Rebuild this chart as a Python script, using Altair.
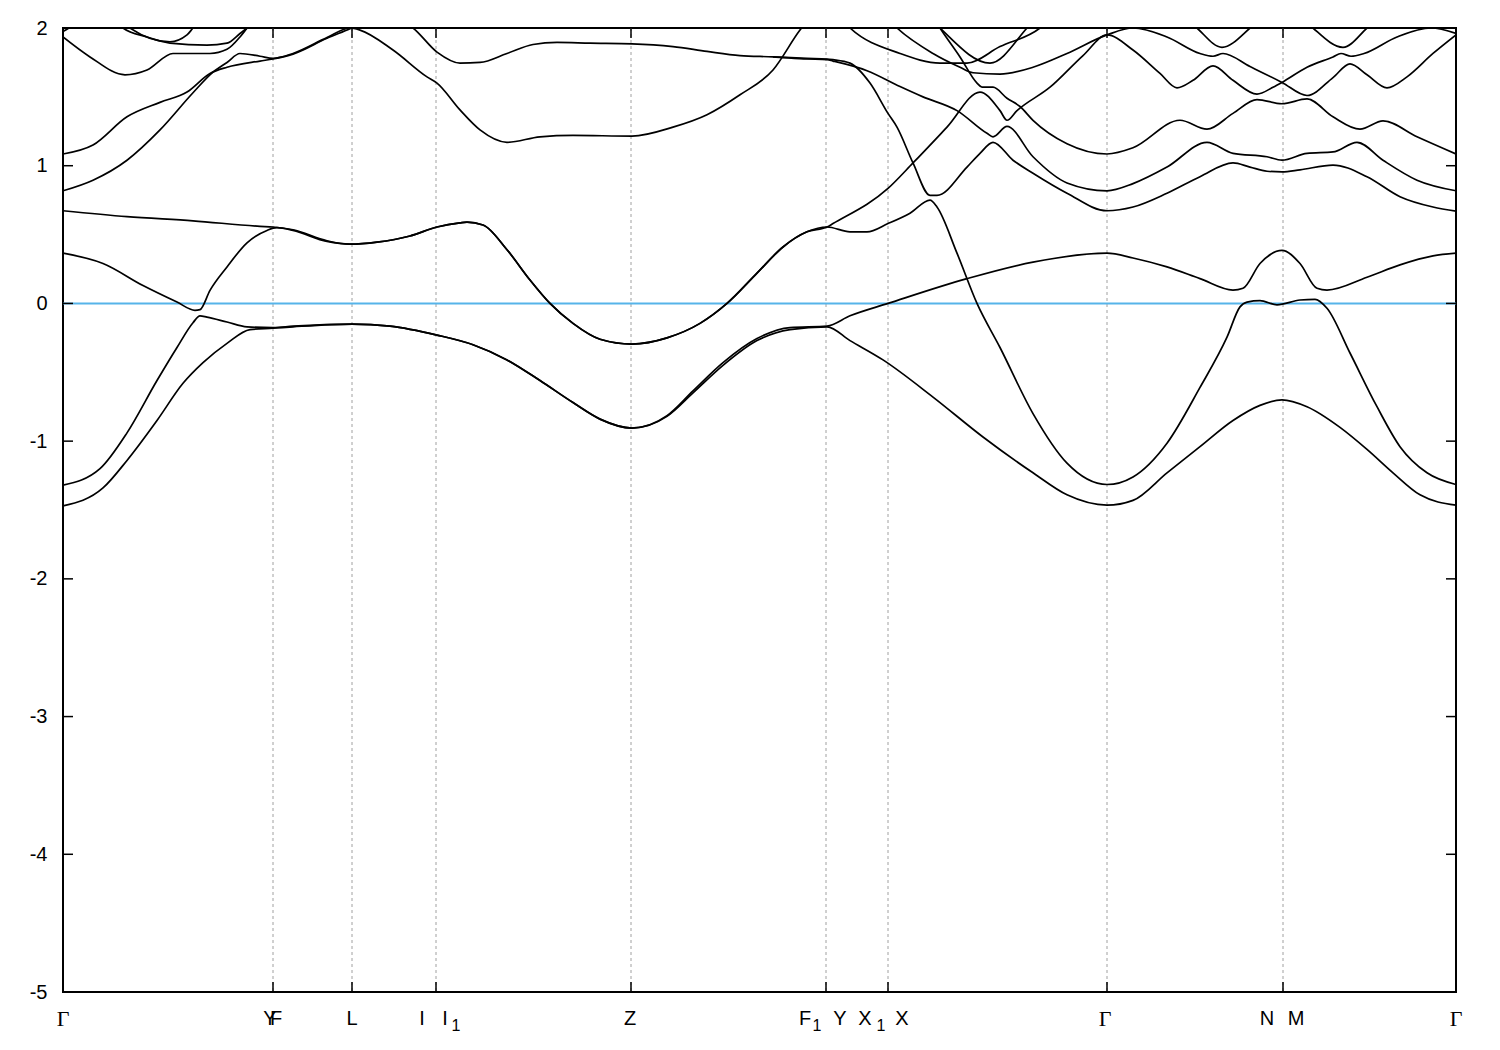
import altair as alt
import pandas as pd

# ---------------- data ----------------
# high-symmetry points along the path (arbitrary path units)
hs_k = [0, 210, 289, 373, 568, 763, 825, 1044, 1220, 1393]
# tick-label pieces and the high-symmetry point each belongs to
label_text = ["Γ", "Y", "F", "L", "I", "I", "1", "Z", "F", "1", "Y", "X", "1", "X", "Γ", "N", "M", "Γ"]
label_at = [0, 1, 1, 2, 3, 3, 3, 4, 5, 5, 5, 6, 6, 6, 7, 8, 8, 9]
yticks = [-5, -4, -3, -2, -1, 0, 1, 2]
fermi = [0]

A_k = [0, 40, 64, 94, 120, 140, 164, 187, 210, 230, 289, 327, 374, 410, 444, 477, 510, 537, 569, 604,
       630, 660, 694, 727, 764, 787, 820, 870, 920, 970, 1004, 1044, 1070, 1104, 1137, 1170, 1197, 1219, 1244, 1277,
       1304, 1330, 1357, 1393]
A_e = [-1.47, -1.34, -1.14, -0.85, -0.58, -0.43, -0.29, -0.19, -0.18, -0.17, -0.15, -0.165, -0.23, -0.30, -0.41, -0.56, -0.72, -0.84, -0.905, -0.82,
       -0.65, -0.45, -0.27, -0.19, -0.17, -0.27, -0.41, -0.68, -0.97, -1.23, -1.39, -1.465, -1.43, -1.23, -1.04, -0.85, -0.74, -0.70, -0.75, -0.90,
       -1.06, -1.23, -1.39, -1.465]

B_k = [0, 37, 64, 94, 114, 130, 137, 144, 164, 184, 210, 230, 289, 327, 374, 410, 444, 477, 510, 537,
       569, 604, 630, 660, 694, 727, 764, 787, 825, 904, 970, 1044, 1070, 1104, 1137, 1170, 1180, 1197, 1219, 1237,
       1254, 1264, 1304, 1337, 1370, 1393]
B_e = [-1.32, -1.20, -0.94, -0.56, -0.32, -0.14, -0.09, -0.10, -0.135, -0.17, -0.175, -0.165, -0.15, -0.165, -0.23, -0.30, -0.41, -0.56, -0.72, -0.84,
       -0.905, -0.815, -0.635, -0.43, -0.255, -0.175, -0.165, -0.09, 0.0, 0.18, 0.30, 0.365, 0.33, 0.265, 0.18, 0.097, 0.11, 0.29, 0.385, 0.29,
       0.11, 0.097, 0.19, 0.28, 0.345, 0.365]

C_k = [0, 40, 80, 114, 132, 137, 147, 164, 184, 204, 214, 230, 264, 287, 314, 347, 374, 397, 404, 420,
       444, 467, 487, 510, 537, 569, 604, 637, 664, 694, 720, 744, 764, 787, 804, 825, 847, 867, 874, 894,
       914, 937, 970, 1004, 1044, 1070, 1104, 1137, 1164, 1177, 1184, 1197, 1214, 1237, 1252, 1264, 1287, 1314, 1337, 1364,
       1393]
C_e = [0.365, 0.29, 0.13, 0.01, -0.05, -0.045, 0.095, 0.265, 0.44, 0.53, 0.55, 0.53, 0.45, 0.43, 0.445, 0.49, 0.555, 0.585, 0.59, 0.57,
       0.39, 0.17, 0.0, -0.145, -0.26, -0.295, -0.25, -0.145, 0.0, 0.22, 0.41, 0.52, 0.555, 0.52, 0.52, 0.58, 0.655, 0.75, 0.70, 0.365,
       0.0, -0.32, -0.80, -1.16, -1.315, -1.26, -1.015, -0.61, -0.245, -0.025, 0.01, 0.02, -0.01, 0.025, 0.03, -0.035, -0.36, -0.75, -1.04, -1.23,
       -1.315]

D_k = [0, 64, 130, 197, 210, 230, 264, 287, 314, 347, 374, 397, 404, 420, 444, 467, 487, 510, 537, 569,
       604, 637, 664, 694, 720, 744, 764, 770, 825, 850, 884, 917, 937, 944, 954, 987, 1020, 1044, 1070, 1097,
       1114, 1130, 1150, 1170, 1194, 1210, 1219, 1244, 1270, 1278, 1288, 1301, 1334, 1368, 1393]
D_e = [0.673, 0.63, 0.60, 0.56, 0.555, 0.535, 0.455, 0.43, 0.445, 0.49, 0.555, 0.585, 0.59, 0.57, 0.39, 0.17, 0.0, -0.145, -0.26, -0.295,
       -0.25, -0.145, 0.0, 0.22, 0.41, 0.52, 0.555, 0.58, 0.835, 1.02, 1.28, 1.535, 1.40, 1.33, 1.40, 1.57, 1.80, 1.95, 1.84, 1.67,
       1.565, 1.62, 1.725, 1.62, 1.52, 1.57, 1.605, 1.715, 1.79, 1.815, 1.795, 1.815, 1.935, 2.0, 1.96]

E_k = [0, 30, 64, 97, 130, 150, 164, 177, 197, 210, 230, 264, 287, 297, 330, 364, 374, 397, 417, 444,
       477, 510, 569, 610, 644, 677, 710, 737, 750]
E_e = [0.818, 0.895, 1.04, 1.26, 1.53, 1.68, 1.75, 1.815, 1.795, 1.78, 1.815, 1.93, 2.0, 1.985, 1.84, 1.645, 1.60, 1.405, 1.26, 1.17,
       1.21, 1.22, 1.215, 1.28, 1.37, 1.515, 1.695, 1.985, 2.1]

F_k = [0, 30, 64, 97, 124, 147, 164, 197, 210, 230, 264, 287, 318, 350, 374, 397, 417, 444, 470, 494,
       527, 569, 610, 644, 677, 710, 744, 764, 770, 804, 837, 860, 894, 924, 930, 944, 970, 1004, 1044, 1070,
       1104, 1144, 1170, 1204, 1219, 1244, 1270, 1294, 1320, 1354, 1393]
F_e = [1.085, 1.15, 1.355, 1.46, 1.535, 1.67, 1.715, 1.76, 1.775, 1.81, 1.925, 1.995, 2.1, 2.0, 1.825, 1.745, 1.75, 1.815, 1.88, 1.895,
       1.89, 1.885, 1.865, 1.83, 1.80, 1.79, 1.775, 1.77, 1.76, 1.69, 1.575, 1.50, 1.40, 1.235, 1.21, 1.285, 1.065, 0.875, 0.818, 0.87,
       0.99, 1.17, 1.09, 1.065, 1.04, 1.09, 1.10, 1.17, 1.04, 0.895, 0.818]

G_k = [710, 744, 764, 770, 787, 807, 825, 834, 850, 867, 874, 904, 917, 930, 950, 970, 1004, 1044, 1070, 1104,
       1137, 1170, 1187, 1204, 1219, 1237, 1270, 1304, 1337, 1370, 1393]
G_e = [1.79, 1.78, 1.775, 1.77, 1.745, 1.60, 1.38, 1.28, 1.02, 0.785, 0.785, 0.99, 1.09, 1.17, 1.04, 0.945, 0.80, 0.673, 0.70, 0.80,
       0.92, 1.02, 0.99, 0.96, 0.955, 0.97, 1.005, 0.92, 0.775, 0.70, 0.67]

H_k = [870, 877, 897, 914, 919, 930, 944, 957, 970, 1004, 1044, 1070, 1117, 1144, 1170, 1194, 1219, 1244, 1270, 1297,
       1320, 1354, 1393]
H_e = [2.08, 2.0, 1.79, 1.60, 1.57, 1.57, 1.49, 1.43, 1.33, 1.16, 1.085, 1.13, 1.33, 1.265, 1.38, 1.48, 1.45, 1.485, 1.355, 1.265,
       1.325, 1.21, 1.085]

I_k = [0, 27, 62, 84, 110, 130, 147, 164, 177, 184, 190]
I_e = [1.935, 1.79, 1.66, 1.695, 1.815, 1.815, 1.815, 1.845, 1.935, 2.0, 2.06]
J_k = [55, 60, 84, 107, 144, 164, 177, 184, 190]
J_e = [2.04, 2.0, 1.935, 1.89, 1.875, 1.89, 1.96, 2.0, 2.04]
K_k = [62, 67, 107, 124, 130, 135]
K_e = [2.04, 2.0, 1.90, 1.95, 2.0, 2.04]
L_k = [0, 8, 15]
L_e = [1.975, 2.01, 2.05]
M_k = [780, 787, 837, 877, 904, 937, 977, 985]
M_e = [2.05, 2.0, 1.815, 1.745, 1.745, 1.865, 2.0, 2.05]
N_k = [827, 834, 870, 897, 910, 937, 970, 1004, 1044, 1070, 1104, 1137, 1150, 1160, 1187, 1219, 1244, 1270, 1287, 1304,
       1324, 1344, 1370, 1393]
N_e = [2.05, 2.0, 1.815, 1.715, 1.675, 1.665, 1.715, 1.815, 1.95, 2.0, 1.935, 1.815, 1.795, 1.815, 1.72, 1.605, 1.51, 1.64, 1.74, 1.66,
       1.565, 1.645, 1.815, 1.95]
O_k = [870, 877, 927, 964, 970]
O_e = [2.05, 2.0, 1.745, 2.0, 2.05]
R_k = [1128, 1134, 1159, 1187, 1193]
R_e = [2.04, 2.0, 1.86, 2.0, 2.04]
S_k = [1244, 1250, 1280, 1304, 1310]
S_e = [2.04, 2.0, 1.86, 2.0, 2.04]

bands = {
    "A": (A_k, A_e), "B": (B_k, B_e), "C": (C_k, C_e), "D": (D_k, D_e),
    "E": (E_k, E_e), "F": (F_k, F_e), "G": (G_k, G_e), "H": (H_k, H_e),
    "I": (I_k, I_e), "J": (J_k, J_e), "K": (K_k, K_e), "L": (L_k, L_e),
    "M": (M_k, M_e), "N": (N_k, N_e), "O": (O_k, O_e), "R": (R_k, R_e),
    "S": (S_k, S_e),
}

rows = []
for name, (ks, es) in bands.items():
    for i, (k, e) in enumerate(zip(ks, es)):
        rows.append({"band": name, "k": k, "E": e, "o": i})
band_df = pd.DataFrame(rows)

# ---------------- layout ----------------
W, H = 1393, 964
xs = alt.Scale(domain=[hs_k[0], hs_k[-1]], nice=False, zero=False)
ys = alt.Scale(domain=[yticks[0], yticks[-1]], nice=False, zero=False)
SANS = "Liberation Sans"
SERIF = "Liberation Serif"

yaxis = alt.Axis(values=yticks, labelExpr="'' + datum.value", ticks=False, domain=False, grid=False,
                 title=None, labelFont=SANS, labelFontSize=20, labelPadding=16, labelColor="black",
                 orient="left")

hs_df = pd.DataFrame({"k": hs_k})
inner_df = pd.DataFrame({"k": hs_k[1:-1]})
yt_df = pd.DataFrame({"E": yticks})

vlines = alt.Chart(inner_df).mark_rule(color="#a0a0a0", strokeDash=[3, 3], strokeWidth=1).encode(
    x=alt.X("k:Q", scale=xs, axis=None)
)

zero_line = alt.Chart(pd.DataFrame({"E": fermi})).mark_rule(color="#56b4e9", strokeWidth=2).encode(
    y=alt.Y("E:Q", scale=ys, axis=yaxis)
)

lines = alt.Chart(band_df).mark_line(
    color="black", strokeWidth=1.7, interpolate="monotone", clip=True
).encode(
    x=alt.X("k:Q", scale=xs, axis=None),
    y=alt.Y("E:Q", scale=ys, axis=yaxis),
    detail="band:N",
    order="o:Q",
)

tick_len = 10
ytick_l = alt.Chart(yt_df).mark_rule(color="black", strokeWidth=1.5).encode(
    y=alt.Y("E:Q", scale=ys, axis=yaxis), x=alt.value(0), x2=alt.value(tick_len))
ytick_r = alt.Chart(yt_df).mark_rule(color="black", strokeWidth=1.5).encode(
    y=alt.Y("E:Q", scale=ys, axis=yaxis), x=alt.value(W - tick_len), x2=alt.value(W))
xtick_b = alt.Chart(hs_df).mark_rule(color="black", strokeWidth=1.5).encode(
    x=alt.X("k:Q", scale=xs, axis=None), y=alt.value(H - tick_len), y2=alt.value(H))
xtick_t = alt.Chart(hs_df).mark_rule(color="black", strokeWidth=1.5).encode(
    x=alt.X("k:Q", scale=xs, axis=None), y=alt.value(0), y2=alt.value(tick_len))

# offsets (px) of each label piece relative to its tick: (dx, dy, kind)
piece_style = [(0, 0, "g"), (-3, 0, "s"), (3, 0, "s"), (0, 0, "s"), (-14, 0, "s"), (9, 0, "s"), (20, 7, "b"),
               (-1, 0, "s"), (-21, 0, "s"), (-9, 7, "b"), (14, 0, "s"), (-23, 0, "s"), (-7, 7, "b"), (14, 0, "s"),
               (-2, 0, "g"), (-16, 0, "s"), (13, 0, "s"), (0, 0, "g")]

text_layers = []
for txt, at, (dx, dy, kind) in zip(label_text, label_at, piece_style):
    font = SERIF if kind == "g" else SANS
    size = 22 if kind == "g" else (16 if kind == "b" else 20)
    d = pd.DataFrame({"k": [hs_k[at]], "t": [txt]})
    text_layers.append(
        alt.Chart(d).mark_text(font=font, fontSize=size, dx=dx, dy=dy, baseline="middle",
                               align="center", color="black").encode(
            x=alt.X("k:Q", scale=xs, axis=None), y=alt.value(H + 27), text="t:N")
    )

chart = alt.layer(
    vlines, zero_line, lines, ytick_l, ytick_r, xtick_b, xtick_t, *text_layers
).properties(
    width=W, height=H,
    padding={"left": 55, "top": 20, "right": 36, "bottom": 50},
    autosize=alt.AutoSizeParams(type="none"),
    background="white",
).configure_view(stroke="black", strokeWidth=2)

chart.save("out.html", embed_options={"renderer": "svg", "actions": False})
